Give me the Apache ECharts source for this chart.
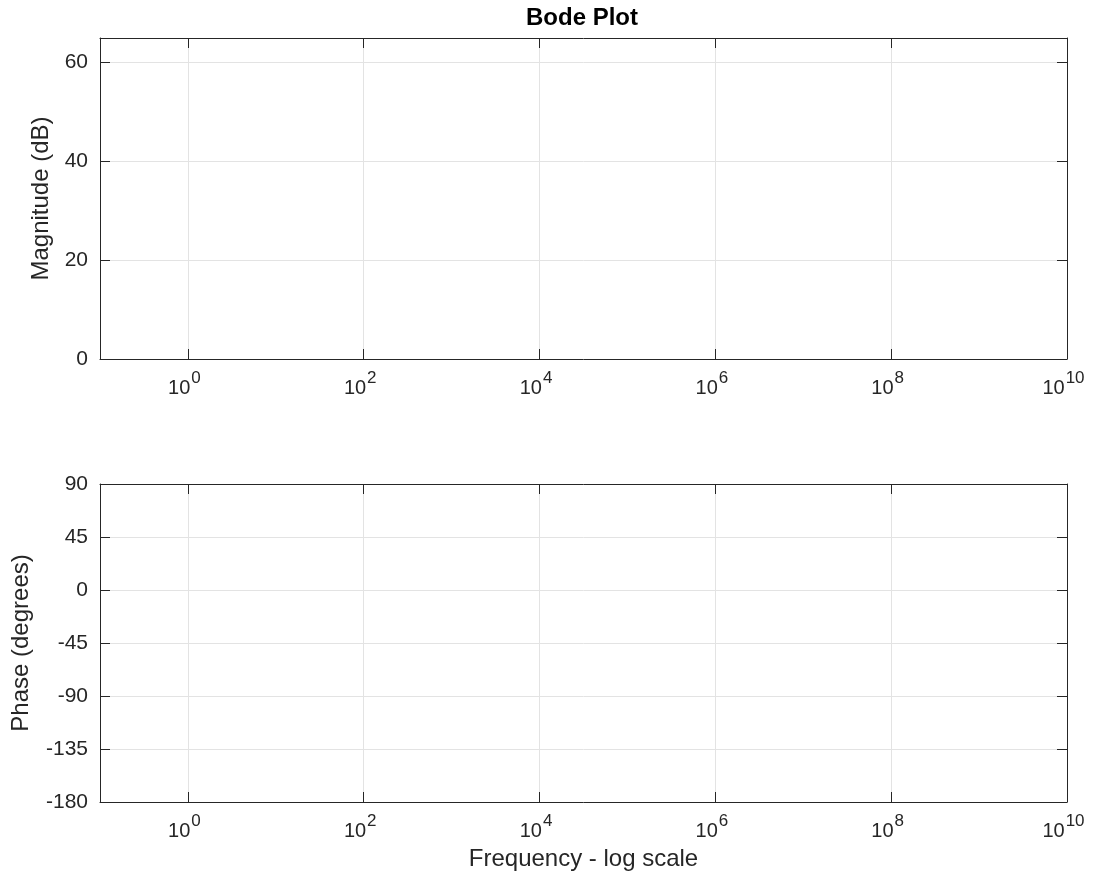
<!DOCTYPE html>
<html>
<head>
<meta charset="utf-8">
<script src="https://cdn.jsdelivr.net/npm/echarts@6/dist/echarts.min.js"></script>
<style>
html,body{margin:0;padding:0;background:#fff;}
#chart{width:1100px;height:873px;}
</style>
</head>
<body>
<div id="chart"></div>
<script>
// Frequency axis: decade exponents (log10 of frequency)
const freqExpRange = [-1, 10];
const xTickExponents = [0, 2, 4, 6, 8, 10];
// Magnitude axis
const magRange = [0, 65];
const magTicks = [0, 20, 40, 60];
// Phase axis
const phaseRange = [-180, 90];
const phaseTicks = [-180, -135, -90, -45, 0, 45, 90];
// Series (the reference plot is empty)
const magnitudeData = [];
const phaseData = [];

const FONT = '"Liberation Sans", Arial, Helvetica, sans-serif';
const AXIS_COLOR = '#262626';
const GRID_COLOR = '#e3e3e3';
const TEXT_COLOR = '#262626';

function xAxes(gridIndex) {
  return [
    {
      type: 'value', gridIndex: gridIndex, position: 'bottom',
      min: freqExpRange[0], max: freqExpRange[1],
      name: gridIndex === 1 ? 'Frequency - log scale' : '',
      nameLocation: 'middle', nameGap: 45,
      nameTextStyle: { fontFamily: FONT, fontSize: 24, color: TEXT_COLOR },
      axisLine: { show: true, onZero: false, lineStyle: { color: AXIS_COLOR, width: 1 } },
      axisTick: { show: true, inside: true, length: 10, customValues: xTickExponents, lineStyle: { color: AXIS_COLOR } },
      axisLabel: {
        show: true, customValues: xTickExponents, margin: 11,
        formatter: v => '{b|10}{s|' + v + '}',
        rich: {
          b: { fontFamily: FONT, fontSize: 20, color: TEXT_COLOR, lineHeight: 28, verticalAlign: 'bottom' },
          s: { fontFamily: FONT, fontSize: 17, color: TEXT_COLOR, lineHeight: 14, verticalAlign: 'top', padding: [0, 7, 0, 1] }
        }
      },
      splitLine: { show: true, lineStyle: { color: GRID_COLOR, width: 1 } }
    },
    {
      type: 'value', gridIndex: gridIndex, position: 'top',
      min: freqExpRange[0], max: freqExpRange[1],
      axisLine: { show: true, onZero: false, lineStyle: { color: AXIS_COLOR, width: 1 } },
      axisTick: { show: true, inside: true, length: 10, customValues: xTickExponents, lineStyle: { color: AXIS_COLOR } },
      axisLabel: { show: false },
      splitLine: { show: false }
    }
  ];
}

function yAxes(gridIndex, range, ticks, interval, name, gap) {
  return [
    {
      type: 'value', gridIndex: gridIndex, position: 'left',
      min: range[0], max: range[1], interval: interval,
      name: name, nameLocation: 'middle', nameGap: gap, nameRotate: 90,
      nameTextStyle: { fontFamily: FONT, fontSize: 24, color: TEXT_COLOR },
      axisLine: { show: true, onZero: false, lineStyle: { color: AXIS_COLOR, width: 1 } },
      axisTick: { show: true, inside: true, length: 10, customValues: ticks, lineStyle: { color: AXIS_COLOR } },
      axisLabel: { show: true, customValues: ticks, margin: 12, fontFamily: FONT, fontSize: 21, color: TEXT_COLOR },
      splitLine: { show: true, lineStyle: { color: GRID_COLOR, width: 1 } }
    },
    {
      type: 'value', gridIndex: gridIndex, position: 'right',
      min: range[0], max: range[1], interval: interval,
      axisLine: { show: true, onZero: false, lineStyle: { color: AXIS_COLOR, width: 1 } },
      axisTick: { show: true, inside: true, length: 10, customValues: ticks, lineStyle: { color: AXIS_COLOR } },
      axisLabel: { show: false },
      splitLine: { show: false }
    }
  ];
}

const chart = echarts.init(document.getElementById('chart'), null, { renderer: 'canvas' });
chart.setOption({
  animation: false,
  backgroundColor: '#ffffff',
  title: {
    text: 'Bode Plot', left: 577, top: 1, textAlign: 'center',
    textStyle: { fontFamily: FONT, fontSize: 24, fontWeight: 'bold', color: '#000' }
  },
  grid: [
    { left: 100, right: 33, top: 38, height: 321, containLabel: false },
    { left: 100, right: 33, top: 484, height: 318, containLabel: false }
  ],
  xAxis: [].concat(xAxes(0), xAxes(1)),
  yAxis: [].concat(
    yAxes(0, magRange, magTicks, 20, 'Magnitude (dB)', 47),
    yAxes(1, phaseRange, phaseTicks, 45, 'Phase (degrees)', 67)
  ),
  series: [
    { type: 'line', xAxisIndex: 0, yAxisIndex: 0, data: magnitudeData, showSymbol: false },
    { type: 'line', xAxisIndex: 2, yAxisIndex: 2, data: phaseData, showSymbol: false }
  ]
});
</script>
</body>
</html>
